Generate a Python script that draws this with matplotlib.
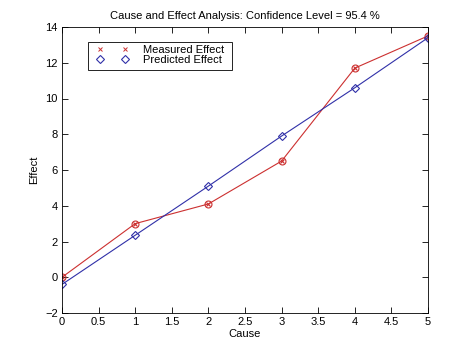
import matplotlib
matplotlib.use("Agg")
import matplotlib.pyplot as plt
from matplotlib.lines import Line2D
from matplotlib.patches import Rectangle

cause = [0, 1, 2, 3, 4, 5]
measured = [0.0, 3.0, 4.1, 6.5, 11.7, 13.5]
predicted = [-0.4, 2.35, 5.1, 7.9, 10.6, 13.4]
xticks = [0, 0.5, 1, 1.5, 2, 2.5, 3, 3.5, 4, 4.5, 5]
yticks = [-2, 0, 2, 4, 6, 8, 10, 12, 14]

plt.rcParams['font.family'] = ['Liberation Sans', 'DejaVu Sans']
plt.rcParams['font.size'] = 8

red = '#cc3030'
blue = '#3030a8'

W, H = 474, 355
fig = plt.figure(figsize=(W/100, H/100), dpi=100)
ax = fig.add_axes([62/W, 1-313/H, (428-62)/W, (313-27)/H])

ax.plot(cause, measured, color=red, lw=0.8, marker='o', ms=5, mfc='none', mec=red, mew=0.8)
ax.plot(cause, measured, color=red, lw=0, marker='x', ms=3.5, mew=0.8)
ax.plot(cause, predicted, color=blue, lw=0.8, marker='D', ms=4.5, mfc='none', mec=blue, mew=0.8)

ax.set_xlim(0, 5)
ax.set_ylim(-2, 14)
ax.set_xticks(xticks)
ax.set_xticklabels([f"{t:g}" for t in xticks])
ax.set_yticks(yticks)
ax.tick_params(direction='in', top=True, right=True, length=4, width=0.6, pad=3)
for s in ax.spines.values():
    s.set_linewidth(0.6)
ax.set_xlabel('Cause', labelpad=1)
ax.set_ylabel('Effect', labelpad=4)
ax.set_title('Cause and Effect Analysis: Confidence Level = 95.4 %', fontsize=8, pad=6)

handles = [Line2D([], [], color=red, lw=0, marker='x', ms=3, mew=0.7),
           Line2D([], [], color=blue, lw=0, marker='D', ms=4.5, mfc='none', mew=0.8)]
leg = ax.legend(handles, ['Measured Effect', 'Predicted Effect'], numpoints=2,
                loc='upper left', bbox_to_anchor=((94-62)/366, 1-(42-27)/286),
                frameon=False, handlelength=2.85, handletextpad=1.32,
                borderpad=0.25, labelspacing=0.02, fontsize=8, borderaxespad=0)

fig.patches.append(Rectangle((88/W, 1-70/H), (232-88)/W, 28/H, transform=fig.transFigure,
                             fill=False, edgecolor='black', lw=0.6, zorder=5))

fig.savefig('out.png', dpi=100)
